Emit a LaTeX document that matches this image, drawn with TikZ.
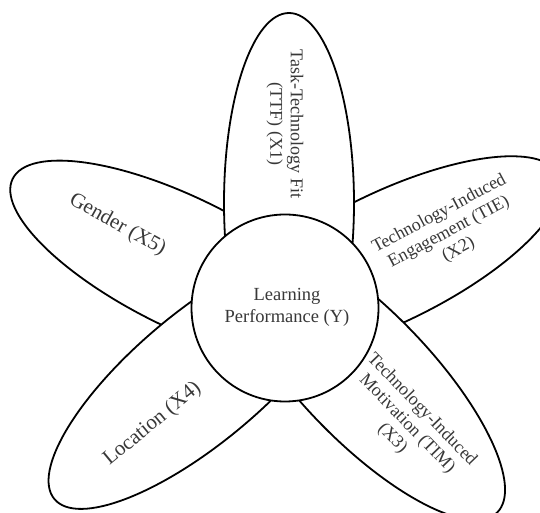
\documentclass[tikz,border=0pt]{standalone}
\usepackage{fontspec}
\setmainfont{Liberation Serif}
\usetikzlibrary{shapes.geometric}
\tikzset{
  petal/.style={ellipse, draw=black, fill=white, line width=1.8pt,
    minimum width=380pt, minimum height=130pt, inner sep=0pt},
  hub/.style={circle, draw=black, fill=white, line width=1.8pt,
    minimum size=187pt, inner sep=0pt},
  ptext/.style={text=black!78, align=center, font=\fontsize{18}{20.5}\selectfont},
  btext/.style={text=black!78, align=center, font=\fontsize{21}{24}\selectfont},
  htext/.style={text=black!78, align=center, font=\fontsize{18.5}{22}\selectfont}
}
\begin{document}
\begin{tikzpicture}[x=1pt,y=1pt]
\useasboundingbox (0,0) rectangle (540,513);
\clip (0,0) rectangle (540,513);
% petals (drawing order matters for overlaps)
\node[petal, rotate=-26.3] (p5) at (183,250) {};
\node[petal, rotate=26] (p2) at (388,255) {};
\node[petal, rotate=40] (p4) at (200,136) {};
\node[petal, rotate=-46] (p3) at (365,137) {};
\node[petal, rotate=90] (p1) at (289,310) {};
% hub
\node[hub] (hub) at (285,205) {};
% texts
\node[htext] (th) at (287,206) {Learning\\Performance (Y)};
\node[ptext, rotate=-90] (t1) at (285,389) {Task-Technology Fit\\(TTF) (X1)};
\node[ptext, rotate=28] (t2) at (449,281) {Technology-Induced\\Engagement (TIE)\\(X2)};
\node[ptext, rotate=-46] (t3) at (407,89) {Technology-Induced\\Motivation (TIM)\\(X3)};
\node[btext, rotate=39.5] (t4) at (152.5,89) {Location (X4)};
\node[btext, rotate=-29] (t5) at (117.5,288) {Gender (X5)};
\end{tikzpicture}
\end{document}
